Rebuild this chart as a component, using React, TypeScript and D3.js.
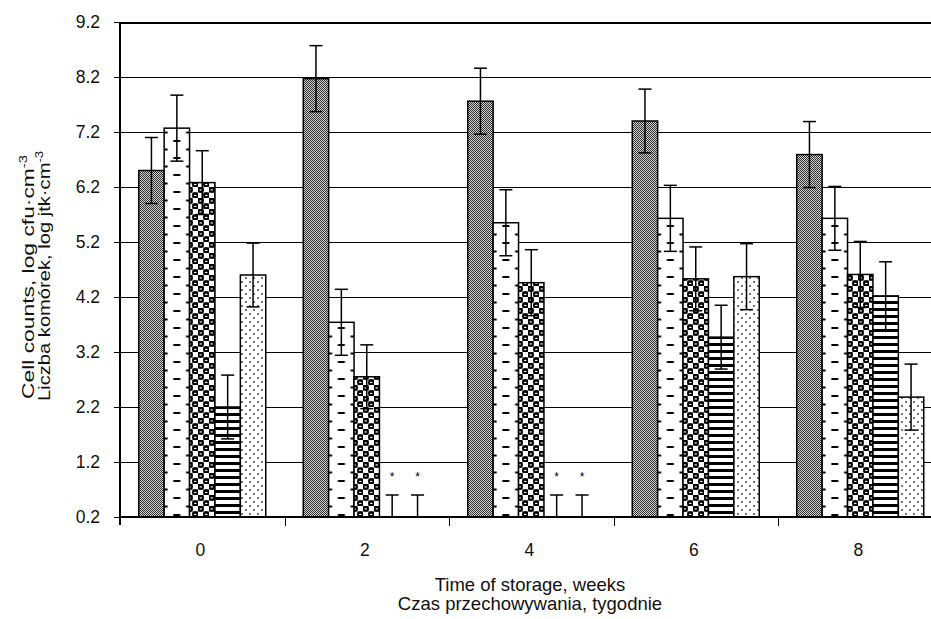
import React from 'react';
import * as d3 from 'd3';

const categories = ['0', '2', '4', '6', '8'];
const seriesKeys = ['a', 'b', 'c', 'd', 'e'];
// values (null = below detection, marked with *)
const seriesA = [6.5, 8.17, 7.76, 7.4, 6.79];
const seriesB = [7.27, 3.74, 5.55, 5.63, 5.63];
const seriesC = [6.28, 2.75, 4.46, 4.53, 4.61];
const seriesD: (number | null)[] = [2.2, null, null, 3.47, 4.22];
const seriesE: (number | null)[] = [4.6, null, null, 4.57, 2.38];
const errA = [0.6, 0.6, 0.6, 0.58, 0.6];
const errB = [0.6, 0.6, 0.6, 0.6, 0.58];
const errC = [0.58, 0.58, 0.6, 0.58, 0.6];
const errD = [0.58, 0.4, 0.4, 0.58, 0.62];
const errE = [0.58, 0.4, 0.4, 0.6, 0.6];
const yTicks = [0.2, 1.2, 2.2, 3.2, 4.2, 5.2, 6.2, 7.2, 8.2, 9.2];

const values = [seriesA, seriesB, seriesC, seriesD, seriesE];
const errors = [errA, errB, errC, errD, errE];

const FONT = '"Liberation Sans", Arial, sans-serif';

export default function App() {
  const W = 931, H = 619;
  const y = d3.scaleLinear().domain([0.2, 9.2]).range([517, 22]);
  const x0 = d3.scaleBand<string>().domain(categories).range([120, 942.5]);
  const x1 = d3.scaleBand<string>().domain(seriesKeys).range([18.75, 145.75]);
  const bw = x1.bandwidth();
  const base = y(0.2);

  const defs: React.ReactNode[] = [];
  defs.push(
    <pattern key="pa" id="pa" patternUnits="userSpaceOnUse" width={2} height={2}>
      <rect width={2} height={2} fill="#cfcfcf" />
      <rect x={0} y={0} width={1} height={1} fill="#333" />
      <rect x={1} y={1} width={1} height={1} fill="#333" />
    </pattern>
  );
  categories.forEach((c) => {
    const bx = (x0(c) as number) + (x1('b') as number);
    defs.push(
      <pattern key={'pb' + c} id={'pb' + c} patternUnits="userSpaceOnUse" x={bx} y={4} width={bw} height={17}>
        <rect width={bw} height={17} fill="#fff" />
        <rect x={bw / 2 - 3.5} y={0} width={7} height={2} fill="#000" />
        <rect x={0} y={8.5} width={3.5} height={2} fill="#000" />
        <rect x={bw - 3.5} y={8.5} width={3.5} height={2} fill="#000" />
      </pattern>
    );
  });
  defs.push(
    <pattern key="pc" id="pc" patternUnits="userSpaceOnUse" width={11} height={11}>
      <rect width={11} height={11} fill="#fff" />
      <rect x={0} y={0} width={5.5} height={5.5} fill="#000" />
      <rect x={5.5} y={5.5} width={5.5} height={5.5} fill="#000" />
      <rect x={6.5} y={1} width={3.5} height={3.5} fill="#fff" />
      <rect x={1} y={6.5} width={3.5} height={3.5} fill="#fff" />
      <circle cx={2.75} cy={2.75} r={3.1} fill="#000" />
      <circle cx={8.25} cy={8.25} r={3.1} fill="#000" />
      <ellipse cx={2.75} cy={2.9} rx={1.3} ry={0.7} fill="#fff" />
      <ellipse cx={8.25} cy={8.4} rx={1.3} ry={0.7} fill="#fff" />
    </pattern>
  );
  defs.push(
    <pattern key="pd" id="pd" patternUnits="userSpaceOnUse" width={10} height={7}>
      <rect width={10} height={7} fill="#fff" />
      <rect x={0} y={0} width={10} height={3} fill="#000" />
    </pattern>
  );
  defs.push(
    <pattern key="pe" id="pe" patternUnits="userSpaceOnUse" width={8} height={8}>
      <rect width={8} height={8} fill="#fff" />
      <circle cx={2} cy={2} r={0.9} fill="#333" />
      <circle cx={6} cy={6} r={0.9} fill="#333" />
    </pattern>
  );

  const fillFor = (k: string, c: string) =>
    k === 'a' ? 'url(#pa)' : k === 'b' ? `url(#pb${c})` : k === 'c' ? 'url(#pc)' : k === 'd' ? 'url(#pd)' : 'url(#pe)';

  const bars: React.ReactNode[] = [];
  const errs: React.ReactNode[] = [];
  seriesKeys.forEach((k, si) => {
    categories.forEach((c, ci) => {
      const v = values[si][ci];
      const e = errors[si][ci];
      const bx = (x0(c) as number) + (x1(k) as number);
      const cx = bx + bw / 2;
      if (v !== null) {
        bars.push(
          <rect key={`b${k}${c}`} x={bx} y={y(v)} width={bw} height={base - y(v)}
            fill={fillFor(k, c)} stroke="#000" strokeWidth={1.5} />
        );
        errs.push(
          <g key={`e${k}${c}`} stroke="#000" strokeWidth={1.5}>
            <line x1={cx} x2={cx} y1={y(v + e)} y2={y(v - e)} />
            <line x1={cx - 6.5} x2={cx + 6.5} y1={y(v + e)} y2={y(v + e)} />
            <line x1={cx - 6.5} x2={cx + 6.5} y1={y(v - e)} y2={y(v - e)} />
          </g>
        );
      } else {
        errs.push(
          <g key={`e${k}${c}`}>
            <g stroke="#000" strokeWidth={1.5}>
              <line x1={cx} x2={cx} y1={y(0.2 + e)} y2={base} />
              <line x1={cx - 6.5} x2={cx + 6.5} y1={y(0.2 + e)} y2={y(0.2 + e)} />
            </g>
            <text x={cx} y={y(1.0) + 8} textAnchor="middle" fontSize={12} fontFamily={FONT} fill="#000">*</text>
          </g>
        );
      }
    });
  });

  const boundaries = categories.map((c) => x0(c) as number).concat([942.5]);

  return (
    <svg width={W} height={H} style={{ position: 'absolute', left: 0, top: 0, background: '#fff' }}>
      <defs>{defs}</defs>
      <rect width={W} height={H} fill="#fff" />
      {yTicks.map((t) => (
        <line key={'g' + t} x1={120} x2={W} y1={Math.round(y(t)) + 0.5} y2={Math.round(y(t)) + 0.5}
          stroke="#000" strokeWidth={t === 9.2 ? 2 : 1} shapeRendering="crispEdges" />
      ))}
      {bars}
      {errs}
      <line x1={120} x2={W} y1={base} y2={base} stroke="#000" strokeWidth={2} shapeRendering="crispEdges" />
      <line x1={120} x2={120} y1={22} y2={525} stroke="#000" strokeWidth={2} shapeRendering="crispEdges" />
      {yTicks.map((t) => (
        <g key={'yt' + t}>
          <line x1={114} x2={120} y1={Math.round(y(t)) + 0.5} y2={Math.round(y(t)) + 0.5} stroke="#000" strokeWidth={1} shapeRendering="crispEdges" />
          <text x={100} y={y(t)} dy="0.35em" textAnchor="end" fontSize={17.5} fontFamily={FONT} fill="#111">{t.toFixed(1)}</text>
        </g>
      ))}
      {boundaries.slice(1, 5).map((bxx, i) => (
        <line key={'xt' + i} x1={Math.round(bxx) + 0.5} x2={Math.round(bxx) + 0.5} y1={base} y2={526} stroke="#000" strokeWidth={1} shapeRendering="crispEdges" />
      ))}
      {categories.map((c) => (
        <text key={'xl' + c} x={(x0(c) as number) + x0.bandwidth() / 2 - 2} y={556} textAnchor="middle" fontSize={17.5} fontFamily={FONT} fill="#111">{c}</text>
      ))}
      <text x={530} y={591} textAnchor="middle" fontSize={18.5} fontFamily={FONT} fill="#111">Time of storage, weeks</text>
      <text x={530} y={610} textAnchor="middle" fontSize={18.5} fontFamily={FONT} fill="#111">Czas przechowywania, tygodnie</text>
      <g transform="translate(33.5,277) rotate(-90)">
        <text x={-122} y={0} textLength={244} lengthAdjust="spacingAndGlyphs" fontSize={17} fontFamily={FONT} fill="#111">
          Cell counts, log cfu·cm<tspan dy={-7} fontSize={11}>-3</tspan>
        </text>
      </g>
      <g transform="translate(49.5,276) rotate(-90)">
        <text x={-125} y={0} textLength={250} lengthAdjust="spacingAndGlyphs" fontSize={17} fontFamily={FONT} fill="#111">
          Liczba komórek, log jtk·cm<tspan dy={-7} fontSize={11}>-3</tspan>
        </text>
      </g>
    </svg>
  );
}
